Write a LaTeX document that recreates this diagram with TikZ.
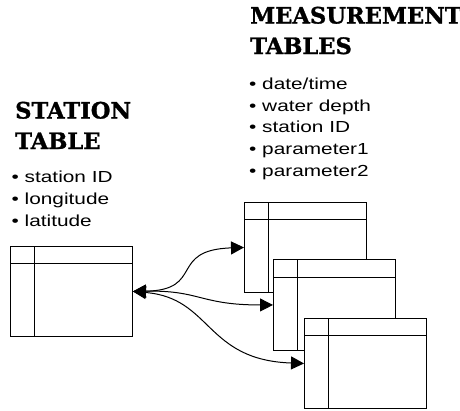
\documentclass[tikz,border=0pt]{standalone}
\usepackage{fontspec}
\usetikzlibrary{arrows.meta}
\newfontfamily\headfont{DejaVu Serif}[BoldFeatures={FakeBold=1.2}]
\newfontfamily\listfont{Liberation Sans}[FakeStretch=1.3]
\begin{document}
\begin{tikzpicture}[x=1pt,y=-1pt,
  heading/.style={anchor=base west,inner sep=0pt,align=left,
    font={\headfont\bfseries\fontsize{22.6}{30.5}\selectfont}},
  fieldlist/.style={anchor=base west,inner sep=0pt,align=left,
    font={\listfont\fontsize{16}{21.6}\selectfont}},
  tablebox/.style={draw,line width=1.4pt,fill=white,anchor=north west,
    minimum width=121.5pt,minimum height=90.5pt,inner sep=0pt,
    path picture={
      \draw[line width=1.4pt]
        ([yshift=-17.5pt]path picture bounding box.north west) --
        ([yshift=-17.5pt]path picture bounding box.north east)
        ([xshift=23.7pt]path picture bounding box.north west) --
        ([xshift=23.7pt]path picture bounding box.south west);}},
  link/.style={line width=1pt,
    {Triangle[length=13pt,width=13pt]}-{Triangle[length=13pt,width=13pt]}}]
\useasboundingbox (0,0) rectangle (460,410);

% headings and field lists (base anchor sits on the last line)
\node[heading] (sthead) at (15,149) {STATION\\TABLE};
\node[fieldlist] (stlist) at (11.5,226) {• station ID\\• longitude\\• latitude};
\node[heading] (mshead) at (250,54) {MEASUREMENT\\TABLES};
\node[fieldlist] (mslist) at (249,176) {• date/time\\• water depth\\• station ID\\• parameter1\\• parameter2};

% tables
\node[tablebox] (st) at (10,245.5) {};
\node[tablebox] (m1) at (244,201.5) {};
\node[tablebox] (m2) at (273,259) {};
\node[tablebox] (m3) at (304,317.5) {};

% links between the station table and the measurement tables
\draw[link] (st.east) .. controls (205,290) and (168,250) .. (m1.west);
\draw[link] (st.east) .. controls (200,290) and (200,305) .. (m2.west);
\draw[link] (st.east) .. controls (212,298) and (205,360) .. (m3.west);
\end{tikzpicture}
\end{document}
